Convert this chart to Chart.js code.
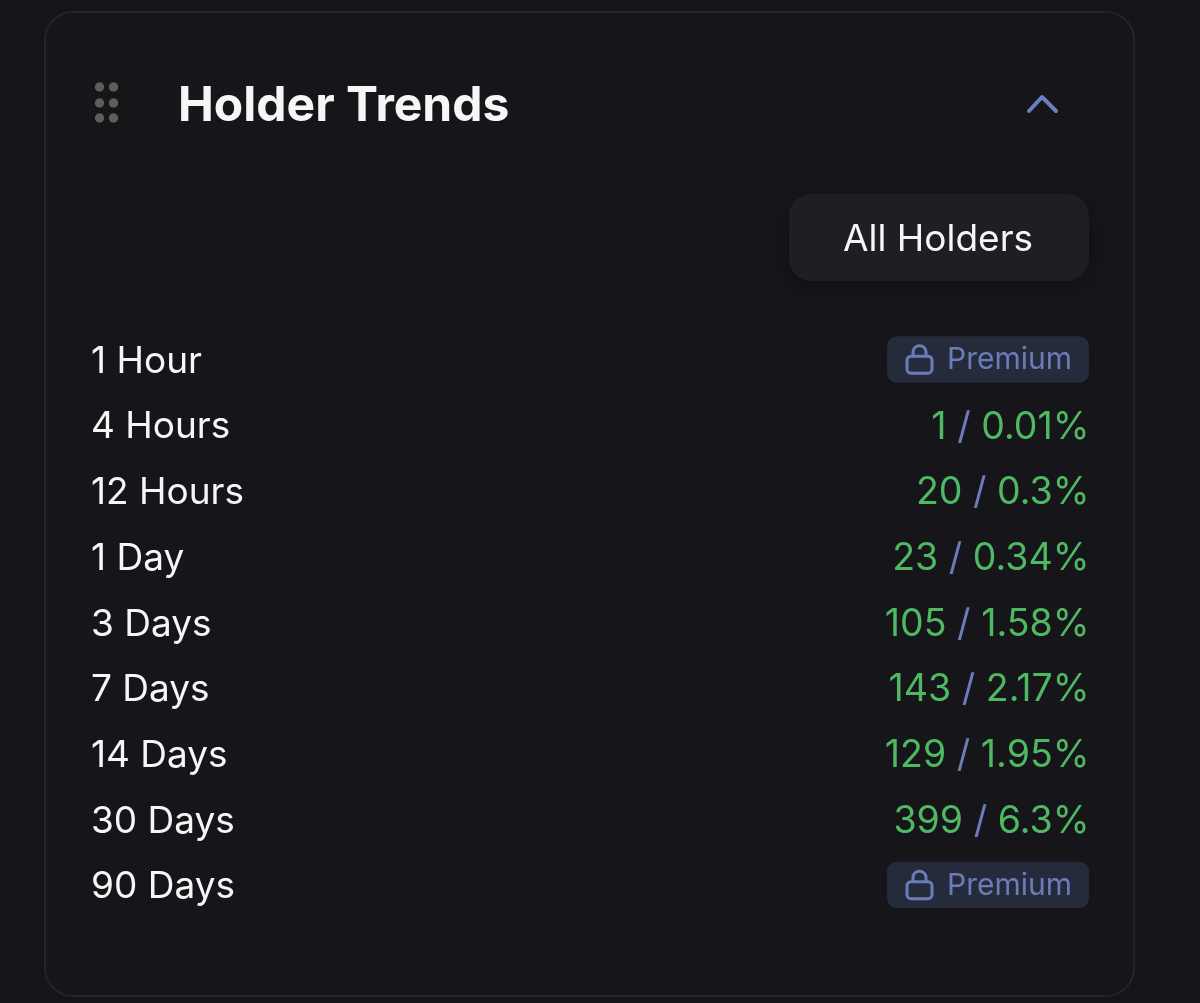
<!DOCTYPE html>
<html>
<head>
<meta charset="utf-8">
<title>Holder Trends</title>
<script src="https://cdn.jsdelivr.net/npm/chart.js@4/dist/chart.umd.js"></script>
<style>
    html, body { margin: 0; padding: 0; background: #141419; }
    canvas { display: block; }
</style>
</head>
<body>
<canvas id="holder-trends" width="1200" height="1003"></canvas>
<script>
const periods = ["1 Hour", "4 Hours", "12 Hours", "1 Day", "3 Days", "7 Days", "14 Days", "30 Days", "90 Days"];
// null = locked behind the Premium badge
const holderChange = [null, 1, 20, 23, 105, 143, 129, 399, null];
const percentChange = [null, 0.01, 0.3, 0.34, 1.58, 2.17, 1.95, 6.3, null];

const titleText = "Holder Trends";
const filterText = "All Holders";
const lockedText = "Premium";

const FONT = "Inter, 'Liberation Sans', sans-serif";
const WHITE = "#f6f6f6";
const GREEN = "#4fb862";
const BLUE = "#6b7cb8";

function roundBox(ctx, x, y, w, h, r, fill, stroke) {
    ctx.beginPath();
    ctx.roundRect(x, y, w, h, r);
    if (fill) {
        ctx.fillStyle = fill;
        ctx.fill();
    }
    if (stroke) {
        ctx.strokeStyle = stroke;
        ctx.lineWidth = 2;
        ctx.stroke();
    }
}

// Card, drag handle, title, chevron and the filter button
const cardPlugin = {
    id: "card",
    beforeDraw(chart) {
        const ctx = chart.ctx;
        ctx.save();
        roundBox(ctx, 45, 12, 1089, 984, 28, "#15151a", "#22232c");

        ctx.fillStyle = "#5f5f5a";
        [87, 103, 118].forEach(y => {
            [99.5, 113.5].forEach(x => {
                ctx.beginPath();
                ctx.arc(x, y, 4.7, 0, Math.PI * 2);
                ctx.fill();
            });
        });

        ctx.textBaseline = "alphabetic";
        ctx.fillStyle = WHITE;
        ctx.font = "700 48px " + FONT;
        ctx.fillText(titleText, 178, 121);

        ctx.strokeStyle = "#6b7fc0";
        ctx.lineWidth = 4;
        ctx.lineCap = "round";
        ctx.lineJoin = "round";
        ctx.beginPath();
        ctx.moveTo(1029, 111);
        ctx.lineTo(1042, 97);
        ctx.lineTo(1056, 111);
        ctx.stroke();

        ctx.save();
        ctx.shadowColor = "rgba(0,0,0,0.25)";
        ctx.shadowBlur = 20;
        ctx.shadowOffsetY = 6;
        roundBox(ctx, 789, 194, 300, 87, 22, "#1e1e23");
        ctx.restore();
        ctx.fillStyle = WHITE;
        ctx.font = "400 37px " + FONT;
        ctx.textAlign = "center";
        ctx.fillText(filterText, 938, 251);
        ctx.restore();
    }
};

function drawLocked(ctx, right, y) {
    y -= 2.5;
    roundBox(ctx, right - 201, y - 23, 202, 46.5, 10, "#262b3c");
    // padlock
    ctx.strokeStyle = BLUE;
    ctx.lineWidth = 3;
    ctx.beginPath();
    ctx.roundRect(right - 181, y - 3, 25, 17, 4);
    ctx.moveTo(right - 175, y - 3);
    ctx.lineTo(right - 175, y - 7);
    ctx.arc(right - 168.5, y - 7, 6.5, Math.PI, 0);
    ctx.lineTo(right - 162, y - 3);
    ctx.stroke();

    ctx.fillStyle = BLUE;
    ctx.font = "400 30px " + FONT;
    ctx.textAlign = "right";
    ctx.textBaseline = "middle";
    ctx.fillText(lockedText, right - 16, y + 1);
}

function drawChange(ctx, right, y, holders, percent) {
    const pct = percent + "%";
    const num = String(holders);
    ctx.font = "400 37.5px " + FONT;
    ctx.textAlign = "left";
    ctx.textBaseline = "middle";
    const sep = " / ";
    let x = right + 1.5 - ctx.measureText(num + sep + pct).width;
    ctx.fillStyle = GREEN;
    ctx.fillText(num, x, y);
    x += ctx.measureText(num).width;
    ctx.fillStyle = BLUE;
    ctx.fillText(sep, x, y);
    x += ctx.measureText(sep).width;
    ctx.fillStyle = GREEN;
    ctx.fillText(pct, x, y);
}

// Right-hand column: "count / percent" in two colours, or the Premium badge
const rowValuesPlugin = {
    id: "rowValues",
    afterDatasetsDraw(chart) {
        const ctx = chart.ctx;
        const yScale = chart.scales.y;
        const right = chart.chartArea.right;
        ctx.save();
        periods.forEach((p, i) => {
            const y = yScale.getPixelForValue(i);
            if (holderChange[i] === null) {
                drawLocked(ctx, right, y);
            } else {
                drawChange(ctx, right, y, holderChange[i], percentChange[i]);
            }
        });
        ctx.restore();
    }
};

new Chart(document.getElementById("holder-trends").getContext("2d"), {
    type: "bar",
    data: {
        labels: periods,
        datasets: [{
            label: "Holder change",
            data: holderChange,
            backgroundColor: "rgba(0, 0, 0, 0)",
        }],
    },
    plugins: [cardPlugin, rowValuesPlugin],
    options: {
        indexAxis: "y",
        responsive: false,
        animation: false,
        devicePixelRatio: 1,
        layout: {
            padding: { left: 91, right: 112, top: 328.8, bottom: 83 },
        },
        plugins: {
            legend: { display: false },
            tooltip: { enabled: false },
        },
        scales: {
            x: { display: false, beginAtZero: true },
            y: {
                grid: { display: false },
                border: { display: false },
                afterFit(scale) { scale.width = 200; },
                ticks: {
                    color: WHITE,
                    crossAlign: "far",
                    padding: 0,
                    font: { family: FONT, size: 37, weight: "400" },
                },
            },
        },
    },
});
</script>
</body>
</html>
